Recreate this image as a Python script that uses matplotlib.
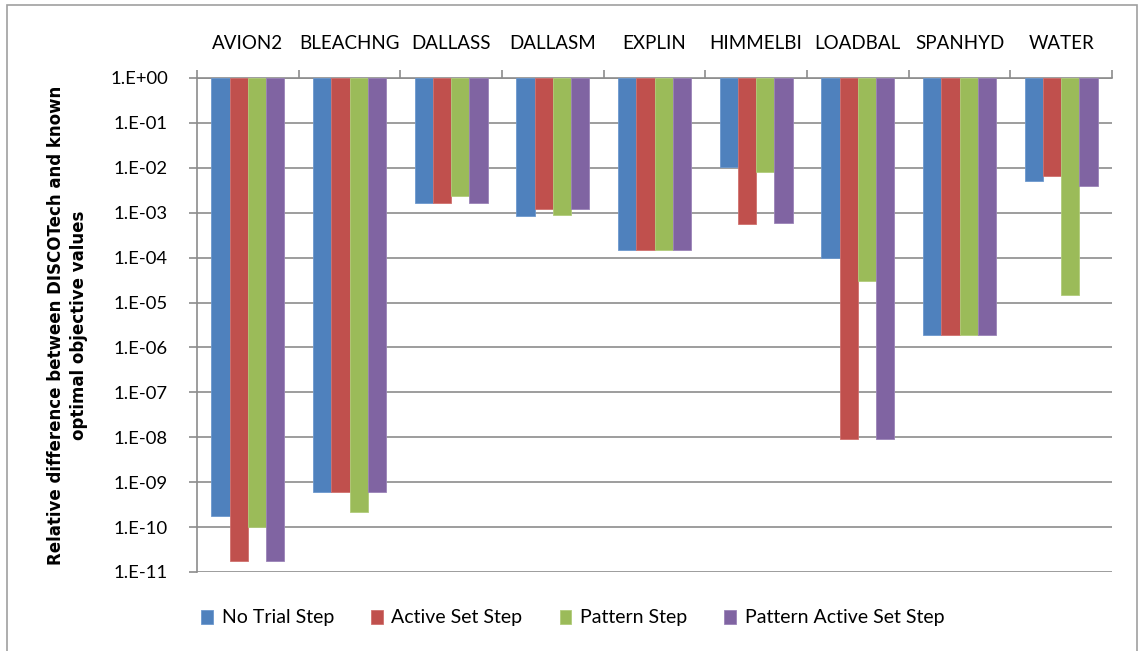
import numpy as np
import matplotlib
matplotlib.use('Agg')
import matplotlib.pyplot as plt
from matplotlib.ticker import FixedLocator, FuncFormatter, NullFormatter
from matplotlib.patches import Rectangle

plt.rcParams['font.family'] = ['Lato', 'DejaVu Sans']

# problems (top labels)
problems = ['AVION2', 'BLEACHNG', 'DALLASS', 'DALLASM', 'EXPLIN',
            'HIMMELBI', 'LOADBAL', 'SPANHYD', 'WATER']

# relative differences
no_trial = [1.8e-10, 6.2e-10, 1.67e-3, 8.5e-4, 1.5e-4, 1.05e-2, 1.0e-4, 1.9e-6, 5.2e-3]
active_set = [1.8e-11, 6.2e-10, 1.67e-3, 1.2e-3, 1.5e-4, 5.6e-4, 9.0e-9, 1.9e-6, 6.6e-3]
pattern = [1.0e-10, 2.2e-10, 2.4e-3, 9.1e-4, 1.5e-4, 7.9e-3, 3.0e-5, 1.9e-6, 1.5e-5]
pattern_active = [1.8e-11, 6.2e-10, 1.67e-3, 1.2e-3, 1.5e-4, 6.0e-4, 9.0e-9, 1.9e-6, 4.0e-3]

series_names = ['No Trial Step', 'Active Set Step', 'Pattern Step', 'Pattern Active Set Step']
colors = ['#4F81BD', '#C0504D', '#9BBB59', '#8064A2']
edge_colors = ['#6C98CE', '#D0716E', '#B1CC7A', '#9A83B8']

fig = plt.figure(figsize=(11.41, 6.51), dpi=100)
ax = fig.add_axes([197 / 1141, 1 - 572 / 651, 915 / 1141, 494 / 651])

# outer frame of the chart
fig.patches.append(Rectangle((7 / 1141, -0.05), 1130 / 1141, 1 - 5 / 651 + 0.05,
                             transform=fig.transFigure, fill=False,
                             edgecolor='#a0a0a0', linewidth=1.2))

x = np.arange(len(problems))
bar_w = 0.18
all_series = [no_trial, active_set, pattern, pattern_active]
for i, vals in enumerate(all_series):
    vals = np.array(vals)
    offs = (i - 1.5) * bar_w
    # bars hang down from 1.E+00 to the value
    ax.bar(x + offs, 1 - vals, bottom=vals, width=bar_w, color=colors[i],
           edgecolor=edge_colors[i], linewidth=0.6, label=series_names[i], zorder=3)

ax.set_yscale('log')
ax.set_ylim(1e-11, 1)
ax.set_xlim(-0.5, len(problems) - 0.5)

ax.yaxis.set_major_locator(FixedLocator([10.0 ** k for k in range(-11, 1)]))
ax.yaxis.set_minor_locator(FixedLocator([]))
ax.yaxis.set_major_formatter(FuncFormatter(lambda v, p: '1.E%+03d' % int(round(np.log10(v)))))
ax.grid(axis='y', color='#8c8c8c', linewidth=1.2, zorder=0)

# category labels on top, tick marks at the group borders
ax.xaxis.tick_top()
ax.set_xticks(np.arange(len(problems) + 1) - 0.5)
ax.xaxis.set_major_formatter(NullFormatter())
ax.set_xticks(x, minor=True)
ax.set_xticklabels(problems, minor=True, fontsize=13.5)
ax.tick_params(axis='x', which='major', direction='out', length=6, color='#8c8c8c', width=1.2)
ax.tick_params(axis='x', which='minor', length=0, pad=19)
ax.tick_params(axis='y', direction='out', length=6, color='#8c8c8c', width=1.2,
               labelsize=13.3, pad=15)

for s in ['right', 'bottom']:
    ax.spines[s].set_visible(False)
for s in ['left', 'top']:
    ax.spines[s].set_color('#8c8c8c')
    ax.spines[s].set_linewidth(1.2)

ax.set_ylabel('Relative difference between DISCOTech and known\noptimal objective values',
              fontsize=12, fontweight='bold', linespacing=1.4, family='DejaVu Sans')
ax.yaxis.set_label_coords(-0.119, 0.5)

fig.legend(loc='center', bbox_to_anchor=(0.502, 1 - 618 / 651), ncol=4, frameon=False,
           fontsize=14, handlelength=0.6, handleheight=0.75, handletextpad=0.45,
           columnspacing=1.9)

fig.savefig('out.png', dpi=100)
